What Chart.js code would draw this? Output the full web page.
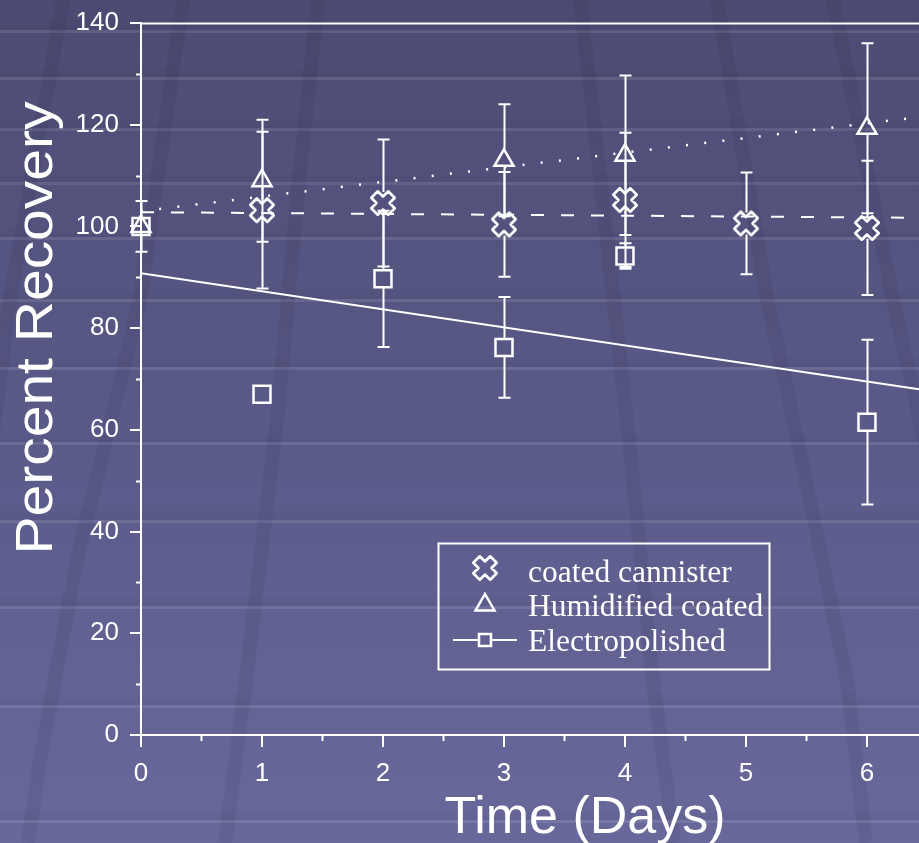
<!DOCTYPE html>
<html>
<head>
<meta charset="utf-8">
<script src="https://cdn.jsdelivr.net/npm/chart.js@4.4.1/dist/chart.umd.min.js"></script>
<style>
  html, body { margin: 0; padding: 0; background: #57578a; }
  #wrap { width: 919px; height: 843px; position: relative; }
</style>
</head>
<body>
<div id="wrap"><canvas id="grafico" width="919" height="843"></canvas></div>
<script>
// --- DADOS ---
const dias = [0, 1, 2, 3, 4, 5, 6];

const coated = [null, 103.2, 104.6, 100.4, 105.2, 100.6, 99.7];
const coatedErr = [null, 15.4, 12.5, 10.3, 13.2, 10, 13.2];

const humidified = [100, 109, null, 113, 114, null, 119.3];
const humidifiedErr = [0, 12, null, 11, 15.7, null, 16.7];

const electro = [100, 67, 89.7, 76.2, 94.2, null, 61.5];
const electroErr = [5, 0, 13.4, 9.9, 2.5, null, 16.2];

// linhas de tendência (valores nas extremidades do eixo)
const trendDias = [0, 6.43];
const coatedTrend = [102.8, 101.7];
const humidifiedTrend = [103.0, 121.5];
const electroTrend = [90.8, 68.0];

const xTicks = [0, 1, 2, 3, 4, 5, 6];
const xMinor = [0.5, 1.5, 2.5, 3.5, 4.5, 5.5];
const yTicks = [0, 20, 40, 60, 80, 100, 120, 140];
const yMinor = [10, 30, 50, 70, 90, 110, 130];

const labels = ['coated cannister', 'Humidified coated', 'Electropolished'];

const SANS = '"Liberation Sans", Arial, sans-serif';
const SERIF = '"Liberation Serif", "Times New Roman", serif';
const BRANCO = '#ffffff';

// marcador "X" vazado
function criaX() {
    const c = document.createElement('canvas');
    c.width = 30; c.height = 30;
    const g = c.getContext('2d');
    const a = 4.6, b = 12;
    const pts = [[a, b], [a, a], [b, a], [b, -a], [a, -a], [a, -b], [-a, -b], [-a, -a], [-b, -a], [-b, a], [-a, a], [-a, b]];
    g.translate(15, 15);
    g.rotate(Math.PI / 4);
    g.beginPath();
    pts.forEach((p, i) => i ? g.lineTo(p[0], p[1]) : g.moveTo(p[0], p[1]));
    g.closePath();
    g.strokeStyle = BRANCO;
    g.lineWidth = 2.6;
    g.lineJoin = 'round';
    g.stroke();
    return c;
}
const marcaX = criaX();

const pares = (xs, ys) => xs.map((x, i) => ({ x: x, y: ys[i] })).filter(p => p.y !== null);

// séries com barras de erro (gap = meio tamanho do marcador)
const series = [
    { valores: coated, erros: coatedErr, gapCima: 11, gapBaixo: 11 },
    { valores: humidified, erros: humidifiedErr, gapCima: 11, gapBaixo: 6.5 },
    { valores: electro, erros: electroErr, gapCima: 9, gapBaixo: 9 }
];

// --- FUNDO ---
const faixasH = [30, 77, 128, 182, 237, 299, 367, 442, 520, 606, 705, 820];
const faixasD = [
    [[63, 0], [10, 300], [-60, 843]],
    [[183, 0], [140, 300], [77, 560], [40, 760], [28, 843]],
    [[318, 0], [300, 170], [277, 420], [246, 680], [225, 843]],
    [[580, 0], [597, 150], [630, 450], [653, 680], [674, 843]],
    [[717, 0], [767, 300], [785, 380], [847, 680], [866, 843]],
    [[833, 0], [893, 300], [960, 600]]
];

const fundo = {
    id: 'fundo',
    beforeDraw(chart) {
        const { ctx, width, height } = chart;
        ctx.save();
        const grad = ctx.createLinearGradient(0, 0, 0, height);
        grad.addColorStop(0, '#4b4b72');
        grad.addColorStop(0.5, '#5a5a89');
        grad.addColorStop(1, '#68689b');
        ctx.fillStyle = grad;
        ctx.fillRect(0, 0, width, height);

        faixasH.forEach(yy => {
            const g2 = ctx.createLinearGradient(0, yy - 14, 0, yy);
            g2.addColorStop(0, 'rgba(0,0,20,0)');
            g2.addColorStop(1, 'rgba(0,0,20,0.05)');
            ctx.fillStyle = g2;
            ctx.fillRect(0, yy - 14, width, 14);
            ctx.fillStyle = 'rgba(255,255,255,0.10)';
            ctx.fillRect(0, yy, width, 3);
        });

        ctx.strokeStyle = 'rgba(20,20,50,0.08)';
        ctx.lineWidth = 14;
        ctx.lineJoin = 'round';
        faixasD.forEach(f => {
            ctx.beginPath();
            f.forEach((p, i) => i ? ctx.lineTo(p[0], p[1]) : ctx.moveTo(p[0], p[1]));
            ctx.stroke();
        });
        ctx.restore();
    }
};

// --- BARRAS DE ERRO ---
const barrasErro = {
    id: 'barrasErro',
    beforeDatasetsDraw(chart) {
        const { ctx, scales: { x, y } } = chart;
        ctx.save();
        ctx.strokeStyle = BRANCO;
        ctx.lineWidth = 2;
        series.forEach(s => {
            s.valores.forEach((v, i) => {
                const e = s.erros[i];
                if (v === null || !e) return;
                const px = Math.round(x.getPixelForValue(dias[i])) + 0.5;
                const py = y.getPixelForValue(v);
                const topo = y.getPixelForValue(v + e);
                const base = y.getPixelForValue(v - e);
                ctx.beginPath();
                if (py - s.gapCima > topo) { ctx.moveTo(px, py - s.gapCima); ctx.lineTo(px, topo); }
                if (py + s.gapBaixo < base) { ctx.moveTo(px, py + s.gapBaixo); ctx.lineTo(px, base); }
                ctx.moveTo(px - 6, topo); ctx.lineTo(px + 6, topo);
                ctx.moveTo(px - 6, base); ctx.lineTo(px + 6, base);
                ctx.stroke();
            });
        });
        ctx.restore();
    }
};

// --- TICKS MENORES, MOLDURA, TÍTULOS E LEGENDA ---
const extras = {
    id: 'extras',
    afterDraw(chart) {
        const { ctx, chartArea: a, scales: { x, y } } = chart;
        ctx.save();
        ctx.strokeStyle = BRANCO;
        ctx.lineWidth = 2;
        ctx.beginPath();
        xMinor.forEach(v => {
            const px = Math.round(x.getPixelForValue(v)) + 0.5;
            ctx.moveTo(px, a.bottom); ctx.lineTo(px, a.bottom + 6);
        });
        yMinor.forEach(v => {
            const py = Math.round(y.getPixelForValue(v)) + 0.5;
            ctx.moveTo(a.left, py); ctx.lineTo(a.left - 5, py);
        });
        // linha de cima em 140
        const yTopo = Math.round(y.getPixelForValue(140)) + 0.5;
        ctx.moveTo(a.left, yTopo); ctx.lineTo(a.right, yTopo);
        ctx.stroke();

        // títulos dos eixos
        ctx.fillStyle = BRANCO;
        ctx.font = '52px ' + SANS;
        ctx.textAlign = 'center';
        ctx.textBaseline = 'alphabetic';
        ctx.fillText('Time (Days)', 585, 833);

        ctx.save();
        ctx.translate(52, 328);
        ctx.rotate(-Math.PI / 2);
        ctx.font = '52px ' + SANS;
        const larg = ctx.measureText('Percent Recovery').width;
        ctx.scale(453 / larg, 1);
        ctx.fillText('Percent Recovery', 0, 0);
        ctx.restore();

        // legenda
        ctx.lineWidth = 2;
        ctx.strokeRect(438.5, 543.5, 331, 126);
        ctx.font = '31.5px ' + SERIF;
        ctx.textAlign = 'left';
        ctx.fillText(labels[0], 528, 582);
        ctx.fillText(labels[1], 528, 616);
        ctx.fillText(labels[2], 528, 651);

        ctx.drawImage(marcaX, 485 - 15, 568 - 15);
        ctx.lineWidth = 2.5;
        ctx.beginPath();
        ctx.moveTo(485, 594); ctx.lineTo(494.5, 610.5); ctx.lineTo(475.5, 610.5); ctx.closePath();
        ctx.stroke();
        ctx.lineWidth = 2;
        ctx.beginPath();
        ctx.moveTo(453, 640); ctx.lineTo(479, 640);
        ctx.moveTo(491, 640); ctx.lineTo(517, 640);
        ctx.stroke();
        ctx.lineWidth = 2.5;
        ctx.strokeRect(479, 634, 12, 12);
        ctx.restore();
    }
};

const ctx = document.getElementById('grafico').getContext('2d');
new Chart(ctx, {
    type: 'scatter',
    data: {
        datasets: [
            { label: labels[0], data: pares(dias, coated), pointStyle: marcaX, pointRadius: 12, borderColor: BRANCO, backgroundColor: 'transparent', clip: false },
            { label: labels[1], data: pares(dias, humidified), pointStyle: 'triangle', pointRadius: 11, borderColor: BRANCO, borderWidth: 2.5, backgroundColor: 'transparent', clip: false },
            { label: labels[2], data: pares(dias, electro), pointStyle: 'rect', pointRadius: 12, borderColor: BRANCO, borderWidth: 2.5, backgroundColor: 'transparent', clip: false },
            { data: pares(trendDias, coatedTrend), showLine: true, pointRadius: 0, borderColor: BRANCO, borderWidth: 2, borderDash: [13, 17] },
            { data: pares(trendDias, humidifiedTrend), showLine: true, pointRadius: 0, borderColor: BRANCO, borderWidth: 2.5, borderDash: [2, 16.3], borderCapStyle: 'butt' },
            { data: pares(trendDias, electroTrend), showLine: true, pointRadius: 0, borderColor: BRANCO, borderWidth: 2 }
        ]
    },
    options: {
        responsive: false,
        animation: false,
        devicePixelRatio: 1,
        layout: { autoPadding: false, padding: { top: 23, left: 0, right: 0, bottom: 0 } },
        plugins: { legend: { display: false }, tooltip: { enabled: false } },
        scales: {
            x: {
                type: 'linear', min: 0, max: 6.43,
                afterBuildTicks: s => { s.ticks = xTicks.map(v => ({ value: v })); },
                afterFit: s => { s.height = 108; s.paddingLeft = 0; s.paddingRight = 0; },
                grid: { drawOnChartArea: false, color: BRANCO, lineWidth: 2, tickLength: 12 },
                border: { color: BRANCO, width: 2 },
                ticks: { color: BRANCO, font: { family: SANS, size: 26 }, padding: 11, maxRotation: 0, autoSkip: false }
            },
            y: {
                type: 'linear', min: 0, max: 140,
                afterBuildTicks: s => { s.ticks = yTicks.map(v => ({ value: v })); },
                afterFit: s => { s.width = 141; s.paddingTop = 0; s.paddingBottom = 0; },
                grid: { drawOnChartArea: false, color: BRANCO, lineWidth: 2, tickLength: 11 },
                border: { color: BRANCO, width: 2 },
                ticks: { color: BRANCO, font: { family: SANS, size: 26 }, padding: 11, autoSkip: false }
            }
        }
    },
    plugins: [fundo, barrasErro, extras]
});
</script>
</body>
</html>
